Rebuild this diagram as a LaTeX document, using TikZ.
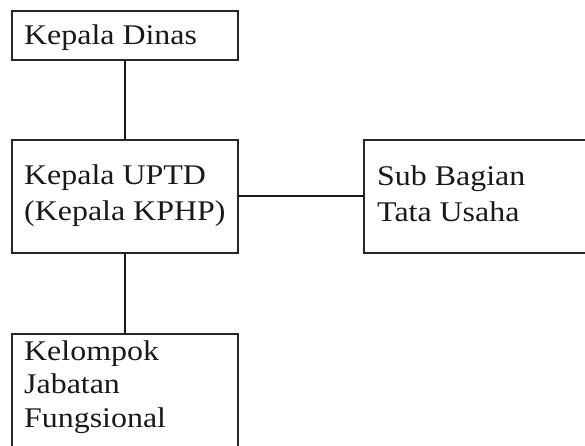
\documentclass[tikz,border=0pt]{standalone}
\usepackage{fontspec}
\setmainfont[FakeStretch=1.12]{Liberation Serif}
\begin{document}
\begin{tikzpicture}[x=1pt,y=-1pt,
  box/.style={draw=black!85,line width=1.3pt},
  conn/.style={draw=black!90,line width=2pt},
  lbl/.style={anchor=base west,inner sep=0pt,align=left,
    font=\fontsize{28.5}{35.5}\selectfont,text=black!90}]
\useasboundingbox[fill=white] (0,0) rectangle (585,446);
\clip (0,0) rectangle (585,446);
\path[box] (12,11) rectangle (238,60);
\coordinate (dinasS) at (125,60);
\node[lbl] (dinas) at (24,45) {Kepala Dinas};
\path[box] (12,140) rectangle (238,253);
\coordinate (uptdN) at (125,140);
\coordinate (uptdE) at (238,196);
\coordinate (uptdS) at (125,253);
\node[lbl] (uptd) at (24,220) {Kepala UPTD\\(Kepala KPHP)};
\path[box] (364,140) rectangle (600,253);
\coordinate (subW) at (364,196);
\node[lbl] (sub) at (377,221) {Sub Bagian\\Tata Usaha};
\path[box] (12,334) rectangle (238,470);
\coordinate (kelN) at (125,334);
\node[lbl,font=\fontsize{28.5}{33.5}\selectfont] (kel) at (24,427) {Kelompok\\Jabatan\\Fungsional};
\draw[conn] (dinasS) -- (uptdN);
\draw[conn] (uptdE) -- (subW);
\draw[conn] (uptdS) -- (kelN);
\end{tikzpicture}
\end{document}
